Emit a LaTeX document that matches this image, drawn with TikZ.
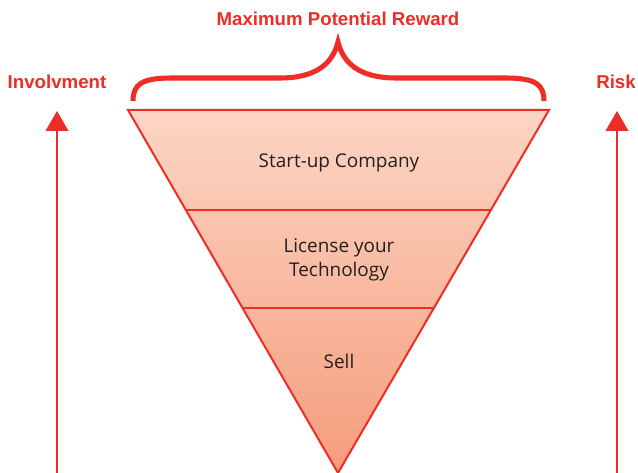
\documentclass[tikz,border=0pt]{standalone}
\usepackage{fontspec}
\setmainfont{Open Sans}
\newfontfamily\headfont{Liberation Sans}
\usetikzlibrary{arrows.meta}

\definecolor{funnelred}{RGB}{237,45,38}
\definecolor{peachtop}{RGB}{252,214,196}
\definecolor{peachbot}{RGB}{245,156,124}
\definecolor{inktext}{RGB}{35,31,32}

\tikzset{every picture/.style={line width=0.75pt}}
\tikzset{
  headlabel/.style={text=funnelred,font=\headfont\bfseries\fontsize{14}{16}\selectfont,inner sep=0.75pt},
  layerlabel/.style={text=inktext,font=\fontsize{14.2}{18}\selectfont,align=center,inner sep=0.75pt},
  riseline/.style={draw=funnelred,line width=1.6pt,-{Triangle[width=17pt,length=15pt]}}
}

\begin{document}
\begin{tikzpicture}[x=0.75pt,y=0.75pt,yscale=-1,xscale=1]
\path[use as bounding box] (0,0) rectangle (638,473);

%Shape: Funnel [id:funnel]
\shade[top color=peachtop,bottom color=peachbot] (128,110) -- (549,110) -- (338,473) -- cycle ;
\draw [color=funnelred][line width=1.5pt] (128,110) -- (549,110) -- (338,473) -- cycle ;
% Layer dividers
\draw [color=funnelred][line width=1.5pt] (186,210) -- (491,210) ;
\draw [color=funnelred][line width=1.5pt] (243,308) -- (434,308) ;

%Shape: Brace [id:brace]
\draw [color=funnelred][line width=3.8pt] (133,101) .. controls (133,84) and (142,78) .. (172,78) -- (280,78) .. controls (318,78) and (333,62) .. (338,42) .. controls (343,62) and (358,78) .. (396,78) -- (505,78) .. controls (535,78) and (544,84) .. (544,101) ;

% Text Node
\node (reward) at (338,19) [headlabel] {Maximum Potential Reward};
% Text Node
\node (involve) at (57,82) [headlabel] {Involvment};
% Text Node
\node (risk) at (616,82) [headlabel] {Risk};

% Text Node
\node (startup) at (339,163) [layerlabel] {Start-up Company};
% Text Node
\node (license) at (339,260) [layerlabel] {License your\\Technology};
% Text Node
\node (sell) at (339,361) [layerlabel] {Sell};

% Side arrows
\coordinate (involve-base) at (57,473);
\coordinate (involve-tip) at (57,111);
\coordinate (risk-base) at (617,473);
\coordinate (risk-tip) at (617,111);
\draw [riseline] (involve-base) -- (involve-tip) ;
\draw [riseline] (risk-base) -- (risk-tip) ;

\end{tikzpicture}
\end{document}
